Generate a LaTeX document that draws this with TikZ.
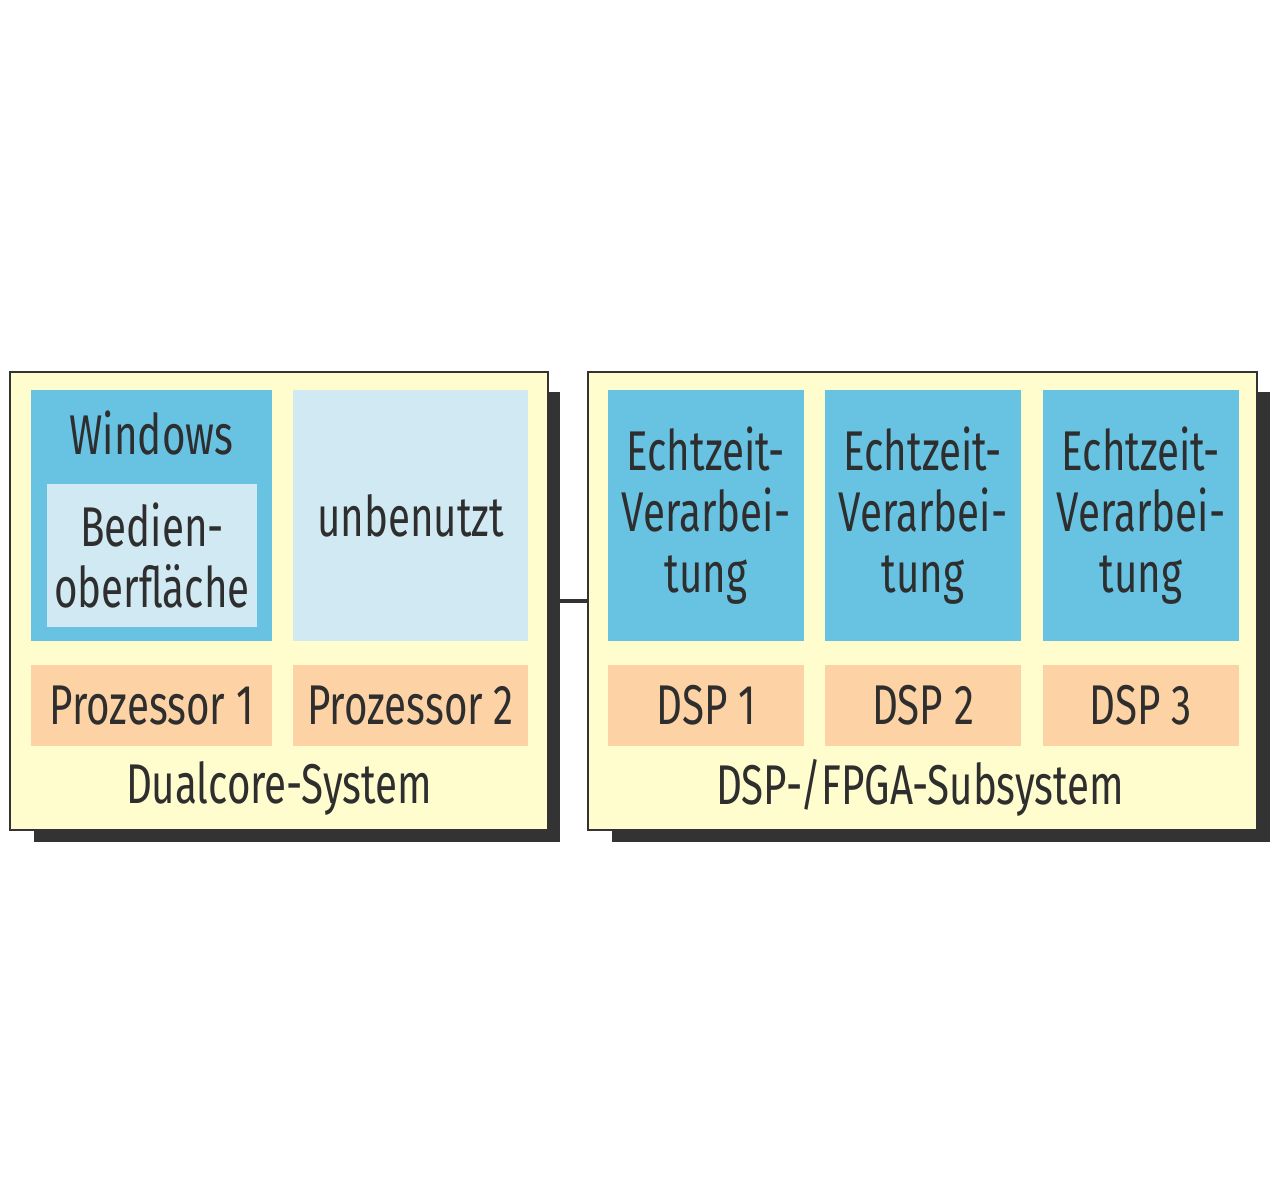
\documentclass[tikz,border=0pt]{standalone}
\usepackage{fontspec}
\setmainfont{Fira Sans}[FakeStretch=0.72]
\usepackage{xcolor}
\usetikzlibrary{positioning}
\definecolor{sky}{HTML}{68C3E3}
\definecolor{pale}{HTML}{D0E9F2}
\definecolor{peach}{HTML}{FDD3A5}
\definecolor{cream}{HTML}{FFFCCD}
\definecolor{ink}{HTML}{2E2E2E}
\definecolor{shade}{HTML}{333333}
\tikzset{
  every node/.style={font=\fontsize{28}{30.5}\selectfont,text=ink},
  sys/.style={draw=shade,line width=1pt,fill=cream,inner sep=0pt},
  core/.style={fill=sky,inner sep=0pt,align=center,minimum width=#1},
  core/.default=98pt,
  free/.style={fill=pale,inner sep=0pt,align=center},
  chip/.style={fill=peach,inner sep=0pt,minimum height=40.5pt,minimum width=#1},
  chip/.default=98pt,
  shadow/.style={fill=shade},
  bus/.style={draw=shade,line width=2pt},
}

\begin{document}
\begin{tikzpicture}[x=0.5pt,y=-0.5pt]
\useasboundingbox (0,0) rectangle (1280,1190);

% ---- shadows ----
\fill[shadow] (34,392) rectangle (560,842);
\fill[shadow] (612,392) rectangle (1270,842);

% ---- systems ----
\node[sys,minimum width=269pt,minimum height=229pt] (dual) at (279,601) {};
\node[sys,minimum width=334.5pt,minimum height=229pt] (dsp) at (922.5,601) {};
\draw[bus] (dual.east) -- (dsp.west);

% ---- dualcore ----
\node[core=120.5pt,minimum height=125.5pt] (win) at (151.5,515.5) {};
\node at (151.5,433) {Windows};
\node[free,minimum width=105pt,minimum height=71.5pt] (gui) at (152,555.5) {Bedien-\\oberfläche};
\node[free,minimum width=117.5pt,minimum height=125.5pt] (idle) at (410.5,515.5) {unbenutzt};
\node[chip=120.5pt] (p1) at (151.5,705.5) {Prozessor 1};
\node[chip=117.5pt] (p2) at (410.5,705.5) {Prozessor 2};
\node at (279,788) {Dualcore-System};

% ---- dsp / fpga ----
\foreach \i/\x in {1/706,2/923,3/1141}{
  \node[core,minimum height=125.5pt] (rt\i) at (\x,515.5) {Echtzeit-\\Verarbei-\\tung};
  \node[chip] (dsp\i) at (\x,705.5) {DSP \i};
}
\node at (920,788) {DSP-/FPGA-Subsystem};

\end{tikzpicture}
\end{document}
